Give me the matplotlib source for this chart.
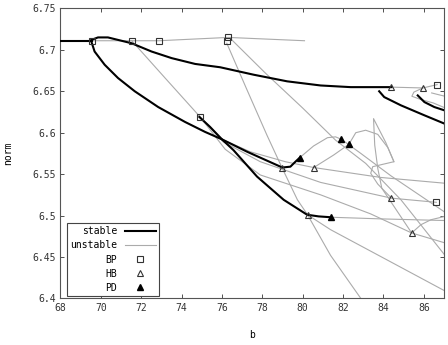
import matplotlib
matplotlib.use("Agg")
import matplotlib.pyplot as plt
from matplotlib.lines import Line2D

plt.rcParams['font.family'] = ['DejaVu Sans Mono']
plt.rcParams['font.size'] = 7

# stable branches (b, norm)
s1_b = [68.0, 69.54]
s1_n = [6.711, 6.711]
s2_b = [69.53, 69.86, 70.35, 70.85, 71.52, 72.51, 73.51, 74.67, 75.91, 77.57, 79.23, 80.89, 82.38, 84.40]
s2_n = [6.712, 6.715, 6.715, 6.712, 6.708, 6.698, 6.690, 6.683, 6.679, 6.670, 6.662, 6.657, 6.655, 6.655]
s3_b = [69.53, 69.69, 70.19, 70.85, 71.68, 72.84, 74.17, 75.16, 76.00, 77.25, 78.99, 79.39, 79.64, 79.86]
s3_n = [6.710, 6.698, 6.682, 6.666, 6.650, 6.631, 6.613, 6.601, 6.592, 6.577, 6.558, 6.559, 6.565, 6.570]
s4_b = [74.88, 75.41, 76.00, 76.57, 77.74, 79.06, 80.22, 80.79, 81.38]
s4_n = [6.619, 6.607, 6.592, 6.579, 6.547, 6.519, 6.501, 6.499, 6.498]
s5_b = [83.79, 84.04, 84.87, 86.03, 87.02]
s5_n = [6.650, 6.643, 6.633, 6.621, 6.611]
s6_b = [85.70, 86.03, 86.52, 87.02]
s6_n = [6.645, 6.637, 6.631, 6.627]

# unstable branches
g1_b = [69.54, 71.53, 72.88, 76.31, 80.09]
g1_n = [6.711, 6.711, 6.711, 6.715, 6.711]
g2_b = [71.53, 73.22, 74.92, 76.01, 77.40, 79.14, 80.54, 83.87, 87.05]
g2_n = [6.711, 6.665, 6.619, 6.592, 6.577, 6.565, 6.558, 6.546, 6.539]
g3_b = [76.24, 77.20, 78.23, 78.99, 79.74, 80.24, 81.38, 82.88]
g3_n = [6.708, 6.654, 6.597, 6.557, 6.519, 6.501, 6.452, 6.400]
g4_b = [76.49, 78.15, 79.99, 81.63, 83.12, 84.87, 87.05]
g4_n = [6.712, 6.672, 6.630, 6.591, 6.563, 6.519, 6.452]
g5_b = [74.92, 76.06, 77.90, 80.89, 84.40, 86.62]
g5_n = [6.619, 6.589, 6.565, 6.540, 6.521, 6.516]
g6_b = [74.92, 76.16, 77.90, 80.89, 83.37, 85.40, 87.05]
g6_n = [6.619, 6.580, 6.549, 6.525, 6.502, 6.479, 6.467]
g7_b = [81.38, 83.87, 87.05]
g7_n = [6.498, 6.496, 6.494]
g8_b = [85.40, 85.86, 86.36, 87.05]
g8_n = [6.479, 6.489, 6.495, 6.499]
g9_b = [80.24, 81.38, 84.37, 87.05]
g9_n = [6.501, 6.483, 6.444, 6.409]
w1_b = [79.86, 80.54, 81.23, 81.63, 81.92, 82.88, 84.37, 87.05]
w1_n = [6.570, 6.584, 6.594, 6.595, 6.592, 6.575, 6.548, 6.504]
w2_b = [80.55, 81.53, 82.29, 82.63, 83.12, 83.72, 84.22, 84.52, 83.47, 83.37, 83.72, 84.40]
w2_n = [6.558, 6.573, 6.586, 6.600, 6.603, 6.598, 6.582, 6.565, 6.559, 6.551, 6.538, 6.521]
w3_b = [84.52, 84.12, 83.51, 83.57, 83.72, 83.92, 84.47, 85.40]
w3_n = [6.565, 6.588, 6.617, 6.585, 6.557, 6.533, 6.513, 6.479]
r1_b = [84.40, 85.95, 86.66]
r1_n = [6.655, 6.654, 6.658]
r2_b = [85.95, 85.51, 85.41, 85.86, 86.46, 87.05]
r2_n = [6.654, 6.649, 6.644, 6.640, 6.636, 6.630]
r3_b = [86.39, 86.71, 87.05]
r3_n = [6.648, 6.646, 6.644]

# special points
bp_b = [69.54, 71.53, 72.88, 76.31, 76.23, 74.92, 86.66, 86.62]
bp_n = [6.711, 6.711, 6.711, 6.716, 6.711, 6.619, 6.658, 6.516]
hb_b = [84.40, 85.95, 78.99, 80.55, 80.24, 84.40, 85.40]
hb_n = [6.655, 6.654, 6.558, 6.558, 6.501, 6.521, 6.479]
pd_b = [79.86, 81.92, 82.29, 81.38]
pd_n = [6.570, 6.592, 6.586, 6.498]

stable = [(s1_b, s1_n), (s2_b, s2_n), (s3_b, s3_n), (s4_b, s4_n), (s5_b, s5_n), (s6_b, s6_n)]
unstable = [(g1_b, g1_n), (g2_b, g2_n), (g3_b, g3_n), (g4_b, g4_n), (g5_b, g5_n),
            (g6_b, g6_n), (g7_b, g7_n), (g8_b, g8_n), (g9_b, g9_n), (w1_b, w1_n),
            (w2_b, w2_n), (w3_b, w3_n), (r1_b, r1_n), (r2_b, r2_n), (r3_b, r3_n)]

grey = '#ababab'

fig = plt.figure(figsize=(4.48, 3.45), dpi=100)
ax = fig.add_axes([0.135, 0.135, 0.856, 0.8406])

for b, n in unstable:
    ax.plot(b, n, color=grey, lw=0.8, zorder=2)
for b, n in stable:
    ax.plot(b, n, color='black', lw=1.5, zorder=3)

ax.plot(bp_b, bp_n, ls='none', marker='s', ms=4.5, mfc='none', mec='#333333', mew=0.8, zorder=4)
ax.plot(hb_b, hb_n, ls='none', marker='^', ms=5, mfc='none', mec='#333333', mew=0.8, zorder=4)
ax.plot(pd_b, pd_n, ls='none', marker='^', ms=5, color='black', zorder=4)

ax.set_xlim(68, 87)
ax.set_ylim(6.4, 6.75)
ax.set_xticks(range(68, 87, 2))
ax.set_yticks([6.4, 6.45, 6.5, 6.55, 6.6, 6.65, 6.7, 6.75])
ax.set_yticklabels(['6.4', '6.45', '6.5', '6.55', '6.6', '6.65', '6.7', '6.75'])
ax.tick_params(direction='in', top=True, right=True, length=3, width=0.6, colors='#333333')
for sp in ax.spines.values():
    sp.set_color('#555555')
    sp.set_linewidth(0.8)
ax.set_xlabel('b', labelpad=12)
ax.set_ylabel('norm', labelpad=14)

handles = [Line2D([], [], color='black', lw=1.5),
           Line2D([], [], color=grey, lw=0.8),
           Line2D([], [], ls='none', marker='s', ms=4.5, mfc='none', mec='#333333', mew=0.8),
           Line2D([], [], ls='none', marker='^', ms=5, mfc='none', mec='#333333', mew=0.8),
           Line2D([], [], ls='none', marker='^', ms=5, color='black')]
labels = ['stable', 'unstable', 'BP', 'HB', 'PD']
leg = ax.legend(handles, labels, loc='lower left', bbox_to_anchor=(0.016, 0.008),
                markerfirst=False, fancybox=False, framealpha=1, edgecolor='#444444',
                handlelength=3.2, handletextpad=0.8, labelspacing=0.42, borderpad=0.35,
                borderaxespad=0, fontsize=7)
leg.get_frame().set_linewidth(0.8)

fig.savefig('out.png', dpi=100)
